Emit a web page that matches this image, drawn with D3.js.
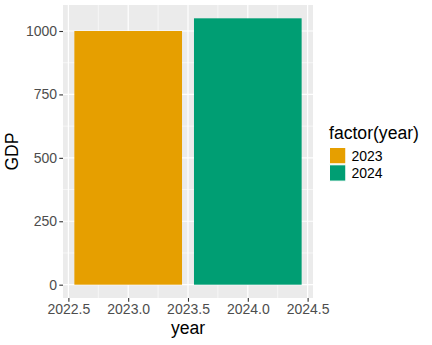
<!DOCTYPE html>
<html>
<head>
<meta charset="utf-8">
<script src="https://cdn.jsdelivr.net/npm/d3@7"></script>
<style>
  body { margin: 0; background: #fff; }
  svg { display: block; font-family: "Liberation Sans", Arial, sans-serif; }
</style>
</head>
<body>
<svg id="chart" width="432" height="345"></svg>
<script>
// GDP by year
const years = [2023, 2024];
const gdp = [1000, 1050];
const colors = ["#E69F00", "#009E73"];
const xTicks = [2022.5, 2023.0, 2023.5, 2024.0, 2024.5];
const yTicks = [0, 250, 500, 750, 1000];

const svg = d3.select("#chart");
const panel = { left: 63, right: 313, top: 5, bottom: 298 };
const barWidth = 0.9;

const xMin = d3.min(years) - barWidth / 2, xMax = d3.max(years) + barWidth / 2;
const xPad = (xMax - xMin) * 0.05;
const x = d3.scaleLinear().domain([xMin - xPad, xMax + xPad]).range([panel.left, panel.right]);
const yMax = d3.max(gdp);
const y = d3.scaleLinear().domain([-yMax * 0.05, yMax * 1.05]).range([panel.bottom, panel.top]);

// panel background
svg.append("rect")
  .attr("x", panel.left).attr("y", panel.top)
  .attr("width", panel.right - panel.left).attr("height", panel.bottom - panel.top)
  .attr("fill", "#EBEBEB");

// minor grid
const xMinor = d3.range(xTicks.length - 1).map(i => (xTicks[i] + xTicks[i + 1]) / 2);
const yMinor = d3.range(yTicks.length - 1).map(i => (yTicks[i] + yTicks[i + 1]) / 2);
const grid = svg.append("g");
grid.selectAll(".xm").data(xMinor).join("line")
  .attr("x1", d => x(d)).attr("x2", d => x(d))
  .attr("y1", panel.top).attr("y2", panel.bottom)
  .attr("stroke", "#fff").attr("stroke-width", 0.6);
grid.selectAll(".ym").data(yMinor).join("line")
  .attr("y1", d => y(d)).attr("y2", d => y(d))
  .attr("x1", panel.left).attr("x2", panel.right)
  .attr("stroke", "#fff").attr("stroke-width", 0.6);
// major grid
grid.selectAll(".xM").data(xTicks).join("line")
  .attr("x1", d => x(d)).attr("x2", d => x(d))
  .attr("y1", panel.top).attr("y2", panel.bottom)
  .attr("stroke", "#fff").attr("stroke-width", 1.2);
grid.selectAll(".yM").data(yTicks).join("line")
  .attr("y1", d => y(d)).attr("y2", d => y(d))
  .attr("x1", panel.left).attr("x2", panel.right)
  .attr("stroke", "#fff").attr("stroke-width", 1.2);

// bars
svg.append("g").selectAll("rect").data(years).join("rect")
  .attr("x", d => x(d - barWidth / 2))
  .attr("width", d => x(d + barWidth / 2) - x(d - barWidth / 2))
  .attr("y", (d, i) => y(gdp[i]))
  .attr("height", (d, i) => y(0) - y(gdp[i]))
  .attr("fill", (d, i) => colors[i]);

// axes
const xAxis = d3.axisBottom(x).tickValues(xTicks).tickFormat(d3.format(".1f")).tickSize(3.7).tickPadding(2);
const yAxis = d3.axisLeft(y).tickValues(yTicks).tickFormat(d3.format("d")).tickSize(3.7).tickPadding(2.2);
const gx = svg.append("g").attr("transform", `translate(0,${panel.bottom})`).call(xAxis);
const gy = svg.append("g").attr("transform", `translate(${panel.left},0)`).call(yAxis);
[gx, gy].forEach(g => {
  g.select(".domain").remove();
  g.selectAll(".tick line").attr("stroke", "#333333").attr("stroke-width", 1.1);
  g.selectAll(".tick text").attr("fill", "#4D4D4D").attr("font-size", "14px");
});
gx.selectAll(".tick text").attr("dy", "0.75em");

// axis titles
svg.append("text").attr("x", (panel.left + panel.right) / 2).attr("y", 334)
  .attr("text-anchor", "middle").attr("font-size", "17.6px").attr("fill", "#000").text("year");
svg.append("text").attr("transform", `translate(18,${(panel.top + panel.bottom) / 2}) rotate(-90)`)
  .attr("text-anchor", "middle").attr("font-size", "17.6px").attr("fill", "#000").text("GDP");

// legend
const legend = svg.append("g").attr("transform", "translate(329,0)");
legend.append("text").attr("x", 0).attr("y", 138.5).attr("font-size", "17.6px").attr("fill", "#000").text("factor(year)");
const items = legend.selectAll(".item").data(years).join("g")
  .attr("transform", (d, i) => `translate(0,${147 + i * 17.3})`);
items.append("rect").attr("x", 0.5).attr("y", 0.5).attr("width", 16.3).attr("height", 16.3)
  .attr("fill", (d, i) => colors[i]).attr("stroke", "#fff").attr("stroke-width", 1);
items.append("text").attr("x", 22.5).attr("y", 8.65).attr("dy", "0.35em")
  .attr("font-size", "14px").attr("fill", "#000").text(d => d);
</script>
</body>
</html>
